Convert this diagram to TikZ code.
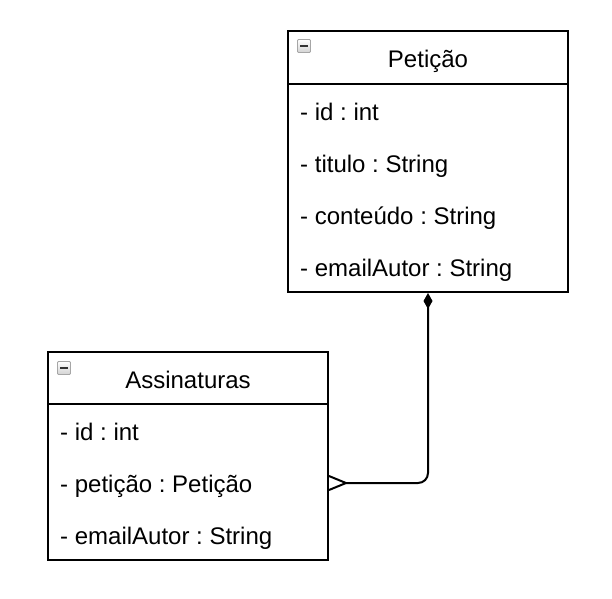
\documentclass[tikz,border=0pt]{standalone}
\usepackage{fontspec}
\setmainfont{Liberation Sans}
\usetikzlibrary{arrows.meta,calc}
\frenchspacing
\begin{document}
\begin{tikzpicture}[x=1pt,y=-1pt,
  classbox/.style={draw=black, line width=2pt, minimum width=280pt, inner sep=0pt},
  attr/.style={anchor=west, inner sep=0pt, text height=17pt, text depth=5pt, font=\fontsize{24}{28}\selectfont\frenchspacing},
  ttl/.style={inner sep=0pt, text height=17pt, text depth=5pt, font=\fontsize{24}{28}\selectfont},
  conn/.style={line width=2pt, draw=black},
  icon/.style={draw=gray!70, line width=0.8pt, rounded corners=1pt, top color=white, bottom color=gray!35, minimum size=13pt, inner sep=0pt}
]
\useasboundingbox (0,0) rectangle (612,598);
% Petição
\node[classbox, minimum height=261pt] (pet) at (428,161.5) {};
\draw[line width=2pt] (288,84) -- (568,84);
\node[ttl] (pett) at (428,61) {Petição};
\node[icon] (peti) at (304,46) {};
\draw[line width=2.2pt, black!80] (300,46) -- (308,46);
\node[attr] (p1) at (300,114) {- id : int};
\node[attr] (p2) at (300,166) {- titulo : String};
\node[attr] (p3) at (300,218) {- conteúdo : String};
\node[attr] (p4) at (300,270) {- emailAutor : String};
% Assinaturas
\node[classbox, minimum height=208pt] (ass) at (188,456) {};
\draw[line width=2pt] (48,404) -- (328,404);
\node[ttl] (asst) at (188,382) {Assinaturas};
\node[icon] (assi) at (64,368) {};
\draw[line width=2.2pt, black!80] (60,368) -- (68,368);
\node[attr] (a1) at (60,434) {- id : int};
\node[attr] (a2) at (60,486) {- petição : Petição};
\node[attr] (a3) at (60,538) {- emailAutor : String};
% connector
\coordinate (end) at ($(ass.east |- a2)+(0,-3)$);
\coordinate (apex) at ($(end)+(17,0)$);
\draw[conn, {Diamond[length=16pt,width=9pt]}-, rounded corners=10pt] (pet.south) |- (apex);
\draw[conn] ($(end)+(0,-7)$) -- (apex) -- ($(end)+(0,7)$);
\end{tikzpicture}
\end{document}
